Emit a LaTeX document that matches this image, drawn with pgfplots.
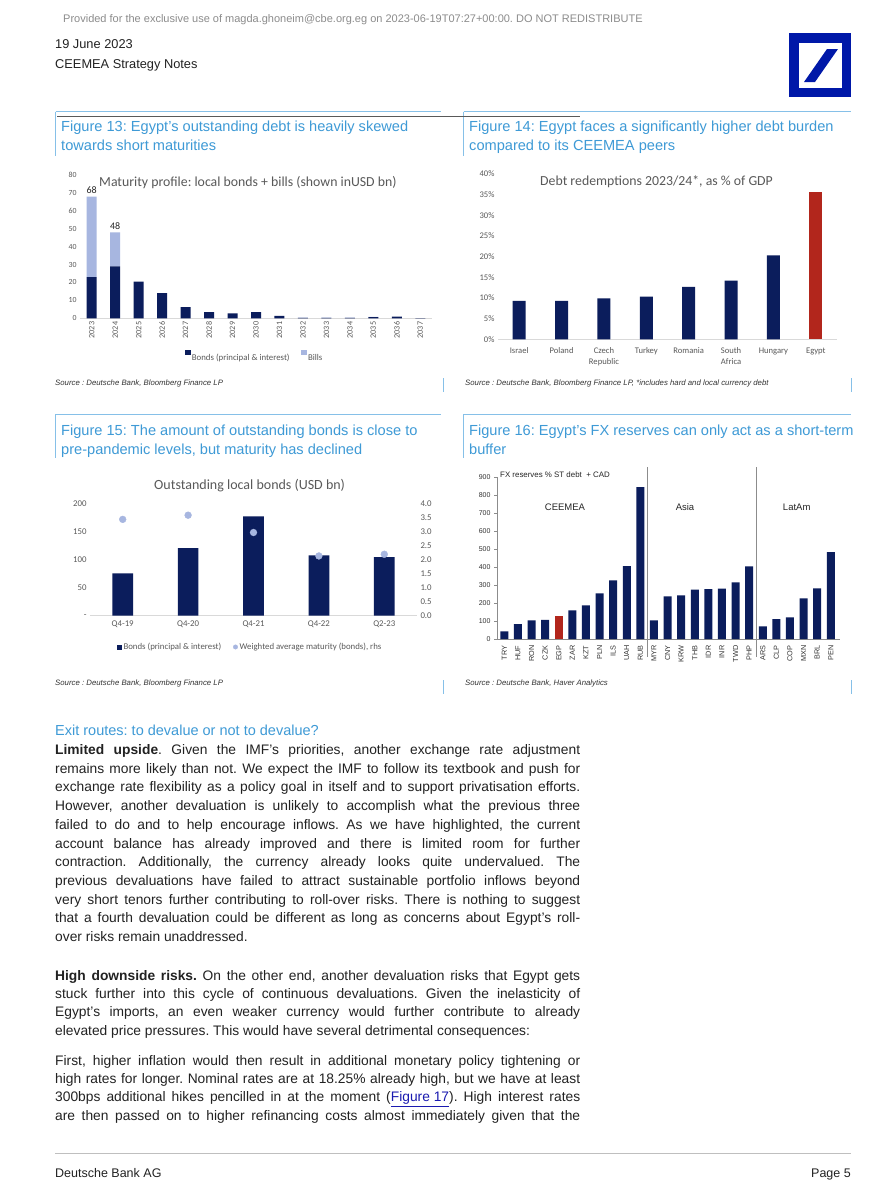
\documentclass[border=0pt]{standalone}
\usepackage{fontspec}
\setmainfont{Liberation Sans}
\newfontfamily\carlito{Carlito}
\usepackage{pgfplots}
\usepackage{pgfplotstable}
\pgfplotsset{compat=1.18}
\frenchspacing

\newcommand{\fs}[2]{\fontsize{#1}{#2}\selectfont}

\definecolor{navy}{HTML}{0B1D5C}
\definecolor{bills}{HTML}{A7B6E0}
\definecolor{egred}{HTML}{B2261C}
\definecolor{dbblue}{HTML}{0018A8}
\definecolor{figblue}{HTML}{3E9AD6}
\definecolor{framebl}{HTML}{86C0E8}
\definecolor{labgray}{HTML}{595959}
\definecolor{gridgray}{HTML}{D9D9D9}
\definecolor{axgray}{HTML}{8C8C8C}
\definecolor{bodytxt}{HTML}{222222}
\definecolor{hdrgray}{HTML}{8C8C8C}
\definecolor{linkblue}{HTML}{1A1AB0}

% Figure 13: maturity profile (USD bn)
\pgfplotstableread{
x bonds bills
0 23 45
1 29 19
2 20.5 0
3 14 0
4 6.2 0
5 3.4 0
6 2.8 0
7 3.4 0
8 1.4 0
9 0.2 0.2
10 0.2 0.2
11 0.2 0.2
12 0.6 0.2
13 0.9 0
14 0.1 0
}\matprof

% Figure 16: FX reserves % ST debt + CAD
\pgfplotstableread{
x val
0 43
1 83
2 104
3 106
5 160
6 187
7 254
8 327
9 406
10 846
11 104
12 237
13 243
14 275
15 278
16 280
17 315
18 404
19 70
20 111
21 121
22 226
23 282
24 484
}\fxres

\pgfplotsset{
  chart/.style={
    scale only axis, anchor=south west, clip=false,
    axis x line*=bottom, axis y line*=left,
    x axis line style={draw=gridgray, line width=0.8pt},
    y axis line style={draw=none},
    major tick length=0pt,
    /pgf/number format/assume math mode=true,
  },
}

\begin{document}
\begin{tikzpicture}[x=1pt,y=1pt]
\path[use as bounding box] (0,0) rectangle (882,-1200);
\fill[white] (0,0) rectangle (882,-1200);

% ---- page header
\node[anchor=base west, inner sep=0, font=\fs{11}{13}, text=hdrgray] at (63,-22.2)
  {Provided for the exclusive use of magda.ghoneim@cbe.org.eg on 2023-06-19T07:27+00:00. DO NOT REDISTRIBUTE};
\node[anchor=base west, inner sep=0, font=\fs{12.8}{14}, text=bodytxt] at (55,-48.6) {19 June 2023};
\node[anchor=base west, inner sep=0, font=\fs{12.8}{14}, text=bodytxt] at (55,-68.6) {CEEMEA Strategy Notes};
% logo
\fill[dbblue] (788.5,-33) rectangle (851,-97);
\fill[white] (798.5,-43) rectangle (841.5,-87.5);
\fill[dbblue] (804,-82) -- (815,-82) -- (838,-49) -- (827,-49) -- cycle;

% ---- figure frames
\foreach \yy/\yb in {111.7/392, 414.3/694} {
  \draw[framebl, line width=0.9pt] (55.5,-\yy) -- (441,-\yy);
  \draw[framebl, line width=0.9pt] (463.5,-\yy) -- (850.5,-\yy);
  \draw[framebl, line width=0.9pt] (55.5,-\yy) -- (55.5,-\yy-44);
  \draw[framebl, line width=0.9pt] (463.5,-\yy) -- (463.5,-\yy-44);
  \draw[framebl, line width=0.9pt] (443,-\yb+14) -- (443,-\yb);
  \draw[framebl, line width=0.9pt] (851,-\yb+14) -- (851,-\yb);
}
\draw[black!65, line width=0.7pt] (57,-116) -- (580,-116);

% ---- figure titles
\begin{scope}[every node/.style={anchor=base west, inner sep=0, font=\fs{14.6}{16}, text=figblue}]
\node at (61,-131.9) {Figure 13: Egypt's outstanding debt is heavily skewed};
\node at (61,-150.9) {towards short maturities};
\node at (469,-131.9) {Figure 14: Egypt faces a significantly higher debt burden};
\node at (469,-150.9) {compared to its CEEMEA peers};
\node at (61,-435.2) {Figure 15: The amount of outstanding bonds is close to};
\node at (61,-454.2) {pre-pandemic levels, but maturity has declined};
\node at (469,-435.2) {Figure 16: Egypt's FX reserves can only act as a short-term};
\node at (469,-454.2) {buffer};
\end{scope}

% ---- sources
\begin{scope}[every node/.style={anchor=base west, inner sep=0, font=\fs{7.8}{9}\itshape, text=black!80}]
\node at (55,-385) {Source : Deutsche Bank, Bloomberg Finance LP};
\node at (465,-385) {Source : Deutsche Bank, Bloomberg Finance LP, *includes hard and local currency debt};
\node at (55,-685) {Source : Deutsche Bank, Bloomberg Finance LP};
\node at (465,-685) {Source : Deutsche Bank, Haver Analytics};
\end{scope}

% ================= Figure 13
\node[anchor=base west, inner sep=0, font=\carlito\fs{13.8}{15}, text=labgray] at (99,-186.1)
  {Maturity profile: local bonds + bills (shown inUSD bn)};
\begin{axis}[chart,
  at={(80pt,-318.3pt)}, width=352pt, height=143.3pt,
  ybar stacked, bar width=10pt,
  xmin=-0.5, xmax=14.5, ymin=0, ymax=80,
  ytick={0,10,...,80},
  xtick={0,...,14},
  xticklabels={2023,2024,2025,2026,2027,2028,2029,2030,2031,2032,2033,2034,2035,2036,2037},
  tick label style={font=\carlito\fs{7.8}{9}, text=labgray},
  xticklabel style={rotate=90, anchor=east, font=\carlito\fs{8.2}{9}},
  legend style={at={(0.497,-0.27)}, anchor=center, draw=none, fill=none,
    font=\carlito\fs{8.8}{10}, text=labgray, legend columns=2,
    /tikz/every even column/.append style={column sep=10pt}},
  legend cell align=left,
]
\addplot[fill=navy, draw=none, forget plot] table[x=x, y=bonds] {\matprof};
\addplot[fill=bills, draw=none, forget plot] table[x=x, y=bills] {\matprof};
\addlegendimage{only marks, mark=square*, mark size=2.2pt, color=navy}
\addlegendentry{Bonds (principal \& interest)}
\addlegendimage{only marks, mark=square*, mark size=2.2pt, color=bills}
\addlegendentry{Bills}
\node[anchor=base, inner sep=0, font=\carlito\fs{10}{11}, text=black!85, yshift=3pt] at (axis cs:0,68) {68};
\node[anchor=base, inner sep=0, font=\carlito\fs{10}{11}, text=black!85, yshift=3pt] at (axis cs:1,48) {48};
\end{axis}

% ================= Figure 14
\node[anchor=base west, inner sep=0, font=\carlito\fs{13.8}{15}, text=labgray] at (540,-185.1)
  {Debt redemptions 2023/24*, as \% of GDP};
\begin{axis}[chart,
  at={(498pt,-339.3pt)}, width=339pt, height=165.3pt,
  ybar, bar width=13pt, bar shift=0pt,
  xmin=-0.5, xmax=7.5, ymin=0, ymax=40,
  ytick={0,5,...,40},
  yticklabel={\pgfmathprintnumber{\tick}\%},
  xtick={0,...,7},
  xticklabels={Israel,Poland,{Czech\\Republic},Turkey,Romania,{South\\Africa},Hungary,Egypt},
  tick label style={font=\carlito\fs{8.6}{10.5}, text=labgray},
  xticklabel style={align=center, anchor=north, yshift=-5pt},
]
\addplot[fill=navy, draw=none] coordinates {(0,9.3) (1,9.3) (2,9.9) (3,10.3) (4,12.7) (5,14.2) (6,20.3)};
\addplot[fill=egred, draw=none] coordinates {(7,35.6)};
\end{axis}

% ================= Figure 15
\node[anchor=base west, inner sep=0, font=\carlito\fs{14}{15}, text=labgray] at (154,-489.5)
  {Outstanding local bonds (USD bn)};
\begin{axis}[chart,
  at={(90pt,-615.7pt)}, width=327pt, height=111.7pt,
  ybar, bar width=20.7pt, bar shift=0pt,
  xmin=-0.5, xmax=4.5, ymin=0, ymax=200,
  ytick={0,50,100,150,200},
  yticklabels={-,50,100,150,200},
  xtick={0,...,4},
  xticklabels={Q4-19,Q4-20,Q4-21,Q4-22,Q2-23},
  tick label style={font=\carlito\fs{8.8}{10}, text=labgray},
  xticklabel style={yshift=-2pt},
]
\addplot[fill=navy, draw=none] coordinates {(0,76) (1,121) (2,178) (3,108) (4,105)};
\end{axis}
\begin{axis}[
  scale only axis, anchor=south west, clip=false,
  at={(90pt,-615.7pt)}, width=327pt, height=111.7pt,
  xmin=-0.5, xmax=4.5, ymin=0, ymax=4,
  axis x line=none, axis y line*=right,
  y axis line style={draw=none}, major tick length=0pt,
  ytick={0,0.5,...,4}, xtick=\empty,
  /pgf/number format/assume math mode=true,
  yticklabel style={font=\carlito\fs{8.8}{10}, text=labgray,
    /pgf/number format/.cd, fixed, fixed zerofill, precision=1},
  legend style={at={(0.49,-0.28)}, anchor=center, draw=none, fill=none,
    font=\carlito\fs{8.8}{10}, text=labgray, legend columns=2,
    /tikz/every even column/.append style={column sep=10pt}},
  legend cell align=left,
]
\addlegendimage{only marks, mark=square*, mark size=2.2pt, color=navy}
\addlegendentry{Bonds (principal \& interest)}
\addlegendimage{only marks, mark=*, mark size=2.2pt, color=bills}
\addlegendentry{Weighted average maturity (bonds), rhs}
\addplot[only marks, mark=*, mark size=3.4pt, color=bills, forget plot]
  coordinates {(0,3.45) (1,3.6) (2,2.98) (3,2.14) (4,2.2)};
\end{axis}

% ================= Figure 16
\node[anchor=base west, inner sep=0, font=\fs{7.9}{9}, text=black!85] at (500,-477.8)
  {FX reserves \% ST debt \ + CAD};
\begin{scope}[every node/.style={anchor=base, inner sep=0, font=\fs{9.5}{11}, text=black!85}]
\node at (565,-510.7) {CEEMEA};
\node at (685,-510.7) {Asia};
\node at (796.7,-510.7) {LatAm};
\end{scope}
\begin{axis}[scale only axis, anchor=south west, clip=false,
  at={(497pt,-639pt)}, width=343pt, height=161.7pt,
  ybar, bar width=8pt, bar shift=0pt,
  xmin=-0.54, xmax=24.68, ymin=0, ymax=900,
  axis x line*=bottom, axis y line*=left,
  axis line style={draw=axgray, line width=0.6pt},
  ytick={0,100,...,900},
  xtick={0,...,24},
  xticklabels={TRY,HUF,RON,CZK,EGP,ZAR,KZT,PLN,ILS,UAH,RUB,MYR,CNY,KRW,THB,IDR,INR,TWD,PHP,ARS,CLP,COP,MXN,BRL,PEN},
  tick align=outside, major tick length=3pt,
  xtick style={draw=none}, ytick style={draw=axgray, line width=0.6pt},
  /pgf/number format/assume math mode=true,
  tick label style={font=\fs{7}{8}, text=black!80},
  xticklabel style={rotate=90, anchor=east, font=\fs{7.3}{8}},
]
\addplot[fill=navy, draw=none] table[x=x, y=val] {\fxres};
\addplot[fill=egred, draw=none] coordinates {(4,128)};
\draw[axgray, line width=0.6pt] (axis cs:10.5,957) -- (axis cs:10.5,-100);
\draw[axgray, line width=0.6pt] (axis cs:18.5,957) -- (axis cs:18.5,-100);
\end{axis}

% ---- body text
\node[anchor=base west, inner sep=0, font=\fs{14.5}{16}, text=figblue] at (55,-735.9)
  {Exit routes: to devalue or not to devalue?};
\node[anchor=north west, inner sep=0, align=left, font=\fs{13.8}{18.74}, text=bodytxt] at (55,-744.1) {%
\makebox[525pt][s]{\textbf{Limited upside}. Given the IMF's priorities, another exchange rate adjustment}\\
\makebox[525pt][s]{remains more likely than not. We expect the IMF to follow its textbook and push for}\\
\makebox[525pt][s]{exchange rate flexibility as a policy goal in itself and to support privatisation efforts.}\\
\makebox[525pt][s]{However, another devaluation is unlikely to accomplish what the previous three}\\
\makebox[525pt][s]{failed to do and to help encourage inflows. As we have highlighted, the current}\\
\makebox[525pt][s]{account balance has already improved and there is limited room for further}\\
\makebox[525pt][s]{contraction. Additionally, the currency already looks quite undervalued. The}\\
\makebox[525pt][s]{previous devaluations have failed to attract sustainable portfolio inflows beyond}\\
\makebox[525pt][s]{very short tenors further contributing to roll-over risks. There is nothing to suggest}\\
\makebox[525pt][s]{that a fourth devaluation could be different as long as concerns about Egypt's roll-}\\
over risks remain unaddressed.};
\node[anchor=north west, inner sep=0, align=left, font=\fs{13.8}{18.4}, text=bodytxt] at (55,-969.8) {%
\makebox[525pt][s]{\textbf{High downside risks.} On the other end, another devaluation risks that Egypt gets}\\
\makebox[525pt][s]{stuck further into this cycle of continuous devaluations. Given the inelasticity of}\\
\makebox[525pt][s]{Egypt's imports, an even weaker currency would further contribute to already}\\
elevated price pressures. This would have several detrimental consequences:};
\node[anchor=north west, inner sep=0, align=left, font=\fs{13.8}{18.4}, text=bodytxt] at (55,-1054.8) {%
\makebox[525pt][s]{First, higher inflation would then result in additional monetary policy tightening or}\\
\makebox[525pt][s]{high rates for longer. Nominal rates are at 18.25\% already high, but we have at least}\\
\makebox[525pt][s]{300bps additional hikes pencilled in at the moment ({\color{linkblue}\underline{Figure 17}}). High interest rates}\\
\makebox[525pt][s]{are then passed on to higher refinancing costs almost immediately given that the}};

% ---- footer
\draw[black!25, line width=1pt] (55,-1153.3) -- (851,-1153.3);
\node[anchor=base west, inner sep=0, font=\fs{12.5}{14}, text=bodytxt] at (55,-1177.8) {Deutsche Bank AG};
\node[anchor=base east, inner sep=0, font=\fs{12.5}{14}, text=bodytxt] at (851,-1177.8) {Page 5};
\end{tikzpicture}
\end{document}
